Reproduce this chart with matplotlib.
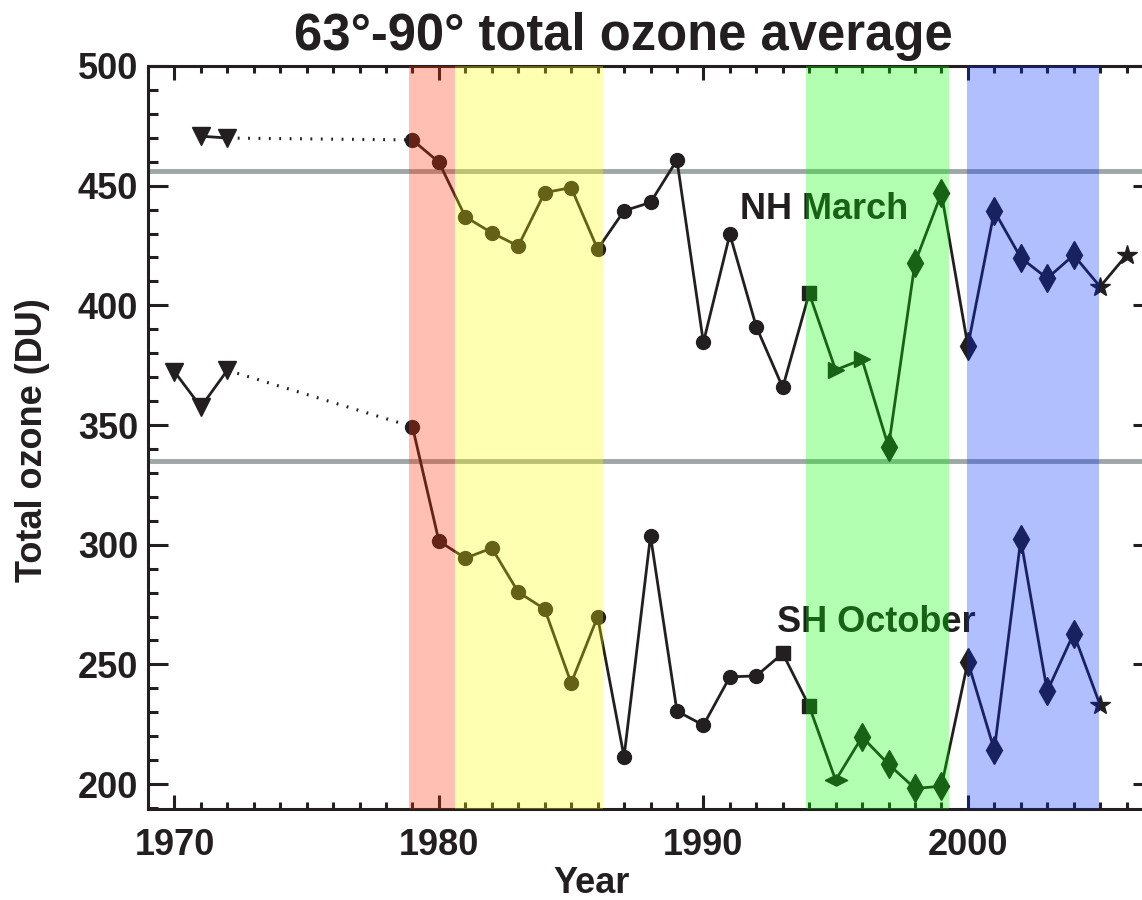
import matplotlib.pyplot as plt
from matplotlib.ticker import MultipleLocator

plt.rcParams['font.family'] = ['Liberation Sans', 'DejaVu Sans']
plt.rcParams['font.weight'] = 'bold'

ink = '#231f20'

# NH March, early years (triangles) and 1979 onwards
nh_early_years = [1971, 1972]
nh_early_ozone = [470.7, 469.9]
nh_years = list(range(1979, 2007))
nh_ozone = [469.1, 459.8, 437.0, 430.3, 424.8, 447.1, 449.2, 423.5, 439.5, 443.0,
            460.7, 384.5, 429.7, 391.1, 365.7, 405.0, 373.0, 377.4, 340.9, 417.8,
            446.8, 383.0, 439.4, 419.9, 411.3, 421.0, 407.8, 421.0]
nh_marks = ['o'] * 15 + ['s'] + ['>'] * 2 + ['d'] * 8 + ['*'] * 2

# SH October
sh_early_years = [1970, 1971, 1972]
sh_early_ozone = [372.3, 357.6, 372.9]
sh_years = list(range(1979, 2006))
sh_ozone = [349.3, 301.5, 294.4, 298.6, 280.2, 273.1, 242.2, 269.9, 211.4, 303.7,
            230.5, 224.6, 244.8, 245.2, 254.6, 232.6, 201.6, 219.7, 208.3, 198.2,
            199.1, 251.1, 214.2, 302.2, 238.8, 262.9, 233.0]
wide_diamond = [(-1, 0), (0, 0.5), (1, 0), (0, -0.5), (-1, 0)]
sh_marks = ['o'] * 14 + ['s'] * 2 + ['wide'] + ['d'] * 9 + ['*']

# instrument periods (shaded) and reference levels
band_start = [1978.85, 1980.62, 1993.87, 1999.95]
band_end = [1980.62, 1986.2, 1999.3, 2004.97]
band_colors = [(1.0, 0.17, 0.0), (1.0, 1.0, 0.0), (0.0, 1.0, 0.0), (0.0, 0.17, 1.0)]
ref_levels = [456.1, 334.9]

marker_size = {'o': 10, 's': 9.5, '>': 11, 'd': 14, 'wide': 16, '*': 15, 'v': 13}

fig = plt.figure(figsize=(11.42, 9.0), dpi=100)
ax = fig.add_axes([148 / 1142, 91 / 900, 1005 / 1142, 743 / 900])

for lvl in ref_levels:
    ax.axhline(lvl, color='#9ea6a6', lw=3.5, zorder=1)


def draw_series(early_x, early_y, xs, ys, marks):
    ax.plot(early_x, early_y, color=ink, lw=2, marker='v', ms=marker_size['v'],
            zorder=3)
    ax.plot([early_x[-1], xs[0]], [early_y[-1], ys[0]], color=ink, lw=2.2,
            linestyle=(0, (0.6, 2.8)), zorder=3)
    ax.plot(xs, ys, color=ink, lw=2, zorder=3)
    for x, y, m in zip(xs, ys, marks):
        mk = wide_diamond if m == 'wide' else m
        ax.plot([x], [y], marker=mk, ms=marker_size[m], color=ink, lw=0, zorder=4)


draw_series(nh_early_years, nh_early_ozone, nh_years, nh_ozone, nh_marks)
draw_series(sh_early_years, sh_early_ozone, sh_years, sh_ozone, sh_marks)

ax.text(1991.4, 436.1, 'NH March', fontsize=26, color=ink, va='baseline', zorder=5)
ax.text(1992.77, 263.5, 'SH October', fontsize=26, color=ink, va='baseline', zorder=5)

for lo, hi, c in zip(band_start, band_end, band_colors):
    ax.axvspan(lo, hi, color=c, alpha=0.3, lw=0, zorder=10)

ax.set_xlim(1969, 2007)
ax.set_ylim(189.6, 500)
ax.xaxis.set_major_locator(MultipleLocator(10))
ax.xaxis.set_minor_locator(MultipleLocator(1))
ax.yaxis.set_major_locator(MultipleLocator(50))
ax.yaxis.set_minor_locator(MultipleLocator(10))
ax.tick_params(which='both', direction='in', top=True, right=True, colors=ink,
               width=2.2, labelsize=26)
ax.tick_params(axis='x', which='major', length=10, pad=14)
ax.tick_params(axis='x', which='minor', length=5)
ax.tick_params(axis='y', which='major', length=14.4, pad=7)
ax.tick_params(axis='y', which='minor', length=7.2)
for s in ax.spines.values():
    s.set_linewidth(2.2)
    s.set_color(ink)

fig.text(623 / 1142, 1 - 50 / 900, '63\u00b0-90\u00b0 total ozone average',
         fontsize=36.5, ha='center', va='baseline', color=ink)
fig.text(592 / 1142, 1 - 893 / 900, 'Year', fontsize=26, ha='center',
         va='baseline', color=ink)
fig.text(33 / 1142, 1 - 440 / 900, 'Total ozone (DU)', fontsize=26, ha='center',
         va='center', rotation=90, color=ink)

fig.savefig('out.png', dpi=100)
